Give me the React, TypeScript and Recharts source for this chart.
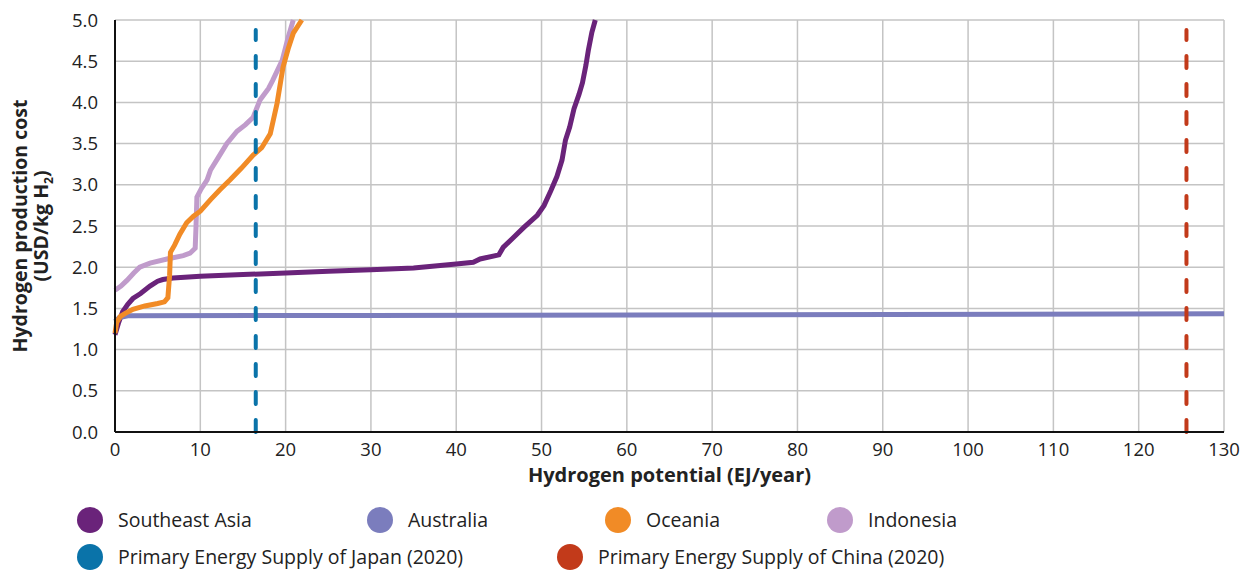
import { LineChart, Line, XAxis, YAxis, CartesianGrid, ReferenceLine, Label } from 'recharts';

// values (EJ/year, USD/kg H2)
const xTicks = [0, 10, 20, 30, 40, 50, 60, 70, 80, 90, 100, 110, 120, 130];
const yTicks = [0, 0.5, 1, 1.5, 2, 2.5, 3, 3.5, 4, 4.5, 5];

const southeastAsia = [
  [0, 1.18], [0.4, 1.32], [0.9, 1.46], [1.5, 1.55], [2.1, 1.62], [3.0, 1.68], [4.1, 1.77],
  [5.0, 1.83], [5.6, 1.85], [6.8, 1.87], [10, 1.89], [15, 1.91], [20, 1.93], [25, 1.95],
  [30, 1.97], [35, 1.99], [40, 2.04], [42, 2.06], [42.8, 2.1], [45, 2.15], [45.5, 2.24],
  [46.5, 2.34], [47.9, 2.48], [49.5, 2.63], [50.3, 2.75], [51.1, 2.93], [51.8, 3.1],
  [52.4, 3.3], [52.8, 3.54], [53.3, 3.7], [53.8, 3.92], [54.4, 4.1], [54.8, 4.24],
  [55.2, 4.45], [55.5, 4.64], [55.9, 4.85], [56.3, 5.0],
];

const australia = [
  [0, 1.34], [0.5, 1.39], [1.5, 1.41], [30, 1.415], [130, 1.435],
];

const oceania = [
  [0, 1.2], [0.2, 1.33], [0.6, 1.4], [1.2, 1.44], [2.1, 1.49], [3.5, 1.53], [5.0, 1.56],
  [5.8, 1.58], [6.2, 1.63], [6.4, 1.9], [6.5, 2.18], [7.0, 2.27], [7.6, 2.4], [8.4, 2.54],
  [9.2, 2.62], [10, 2.68], [11.2, 2.82], [12.3, 2.94], [13.5, 3.06], [14.8, 3.2],
  [16.2, 3.36], [17.2, 3.45], [18.2, 3.62], [18.7, 3.85], [19.0, 3.99], [19.7, 4.43],
  [20.3, 4.65], [20.9, 4.84], [21.9, 5.0],
];

const indonesia = [
  [0, 1.72], [0.7, 1.77], [1.4, 1.84], [2.2, 1.93], [2.9, 2.0], [4.1, 2.05], [6.1, 2.1],
  [8.0, 2.14], [8.8, 2.17], [9.4, 2.23], [9.5, 2.5], [9.6, 2.85], [10.1, 2.95],
  [10.8, 3.06], [11.2, 3.18], [12.1, 3.33], [13.1, 3.5], [14.3, 3.65], [15.3, 3.73],
  [16.2, 3.82], [17.0, 4.03], [18.0, 4.17], [18.5, 4.27], [19.6, 4.51], [20.3, 4.79],
  [20.9, 5.0],
];

const japanSupply = 16.5;
const chinaSupply = 125.6;

const toPoints = (arr: number[][]) => arr.map(([x, y]) => ({ x, y }));

const legendRow1 = [
  { name: 'Southeast Asia', color: '#6a237a', left: 77 },
  { name: 'Australia', color: '#7b7dbd', left: 367 },
  { name: 'Oceania', color: '#f18b26', left: 605 },
  { name: 'Indonesia', color: '#c09bcb', left: 827 },
];
const legendRow2 = [
  { name: 'Primary Energy Supply of Japan (2020)', color: '#0a73a9', left: 77 },
  { name: 'Primary Energy Supply of China (2020)', color: '#c23a1a', left: 557 },
];

const FONT = '"Open Sans", "DejaVu Sans", sans-serif';

function YTitle(props: any) {
  const vb = props.viewBox || { x: 0, y: 0, width: 0, height: 0 };
  const cy = vb.y + vb.height / 2;
  return (
    <g>
      <text
        transform={`translate(27, ${cy}) rotate(-90)`}
        textAnchor="middle"
        fontSize={19.5}
        fontWeight={700}
        fill="#222"
      >
        Hydrogen production cost
      </text>
      <text
        transform={`translate(48, ${cy}) rotate(-90)`}
        textAnchor="middle"
        fontSize={19.5}
        fontWeight={700}
        fill="#222"
      >
        (USD/kg H<tspan fontSize={12} dy={5}>2</tspan><tspan dy={-5}>)</tspan>
      </text>
    </g>
  );
}

function LegendItem({ name, color, left, top }: any) {
  return (
    <div style={{ position: 'absolute', left, top, display: 'flex', alignItems: 'center' }}>
      <span style={{ width: 26, height: 26, borderRadius: '50%', background: color, display: 'inline-block' }} />
      <span style={{ marginLeft: 15, fontSize: 19.5, color: '#222', whiteSpace: 'nowrap' }}>{name}</span>
    </div>
  );
}

export default function App() {
  return (
    <div style={{ position: 'absolute', left: 0, top: 0, width: 1241, height: 570, background: '#fff', fontFamily: FONT }}>
      <LineChart width={1241} height={490} margin={{ top: 20, right: 17, bottom: 0, left: 0 }} style={{ fontFamily: FONT }}>
        <CartesianGrid stroke="#c4c4c4" strokeWidth={1.5} />
        <XAxis
          type="number"
          dataKey="x"
          domain={[0, 130]}
          ticks={xTicks}
          interval={0}
          height={58}
          tickLine={false}
          tickMargin={5}
          axisLine={{ stroke: '#111', strokeWidth: 2 }}
          tick={{ fill: '#222', fontSize: 18.5 }}
        >
          <Label
            value="Hydrogen potential (EJ/year)"
            position="insideBottom"
            offset={8}
            style={{ fontSize: 20, fontWeight: 700, fill: '#222' }}
          />
        </XAxis>
        <YAxis
          type="number"
          dataKey="y"
          domain={[0, 5]}
          ticks={yTicks}
          interval={0}
          width={115}
          tickLine={false}
          tickMargin={11}
          tickFormatter={(v: number) => v.toFixed(1)}
          axisLine={{ stroke: '#111', strokeWidth: 2 }}
          tick={{ fill: '#222', fontSize: 18.5 }}
          label={<YTitle />}
        />
        <Line data={toPoints(indonesia)} dataKey="y" type="linear" stroke="#c09bcb" strokeWidth={5} dot={false} isAnimationActive={false} />
        <Line data={toPoints(southeastAsia)} dataKey="y" type="linear" stroke="#6a237a" strokeWidth={5} dot={false} isAnimationActive={false} />
        <Line data={toPoints(australia)} dataKey="y" type="linear" stroke="#7b7dbd" strokeWidth={5} dot={false} isAnimationActive={false} />
        <Line data={toPoints(oceania)} dataKey="y" type="linear" stroke="#f18b26" strokeWidth={5} dot={false} isAnimationActive={false} />
        <ReferenceLine
          segment={[{ x: japanSupply, y: 0 }, { x: japanSupply, y: 4.88 }]}
          stroke="#0a73a9"
          strokeWidth={4}
          strokeDasharray="12 16"
          strokeLinecap="round"
        />
        <ReferenceLine
          segment={[{ x: chinaSupply, y: 0 }, { x: chinaSupply, y: 4.88 }]}
          stroke="#c23a1a"
          strokeWidth={4}
          strokeDasharray="12 16"
          strokeLinecap="round"
        />
      </LineChart>
      {legendRow1.map((l) => (
        <LegendItem key={l.name} {...l} top={506} />
      ))}
      {legendRow2.map((l) => (
        <LegendItem key={l.name} {...l} top={543} />
      ))}
    </div>
  );
}
